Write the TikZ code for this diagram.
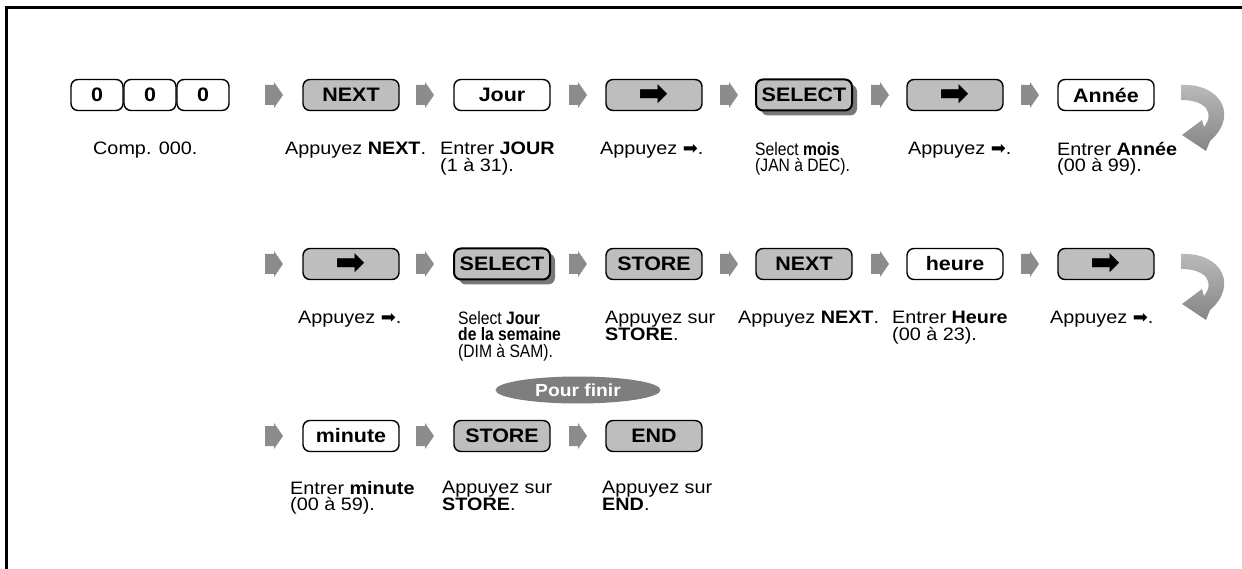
\documentclass[tikz,border=0pt]{standalone}
\usepackage{fontspec}
\setmainfont{Liberation Sans}[FakeStretch=1.1]
\newfontfamily\symf{DejaVu Sans}
\newfontfamily\condf{Liberation Sans}[FakeStretch=0.87]
\usetikzlibrary{shapes.geometric,shadows}
\definecolor{keygray}{HTML}{BEBEBE}
\definecolor{arrowgray}{HTML}{8C8C8C}
\definecolor{shadowgray}{HTML}{787878}
\definecolor{pillgray}{HTML}{7E7E7E}
\definecolor{curvetop}{HTML}{BBBBBB}
\definecolor{curvebot}{HTML}{858585}
\newcommand{\arr}{{\symf\fontsize{18}{15}\selectfont ➡}}
\newcommand{\bigarr}{{\symf\fontsize{36}{20}\selectfont ➡}}
\tikzset{
  key/.style={draw=black, line width=1.4pt, rounded corners=7pt, minimum width=96pt,
    minimum height=31pt, inner sep=0pt, font=\fontsize{19.5}{19.5}\selectfont\bfseries},
  wkey/.style={key, fill=white},
  gkey/.style={key, fill=keygray},
  skey/.style={key, fill=keygray, line width=2pt,
    drop shadow={shadow xshift=5pt, shadow yshift=-5pt, fill=shadowgray, opacity=1}},
  stepfill/.style={fill=arrowgray},
  lbl/.style={anchor=north west, inner sep=0pt, align=left, font=\fontsize{18}{16.5}\selectfont},
  slbl/.style={lbl, font=\condf\fontsize{18}{16.5}\selectfont},
  pill/.style={ellipse, fill=pillgray, minimum width=165pt, minimum height=27pt, inner sep=0pt,
    text=white, font=\fontsize{17.5}{17.5}\selectfont\bfseries}
}
% small gray step arrow centred at (#2,#3), named #1
\newcommand{\steparrow}[3]{%
  \coordinate (#1) at (#2,#3);
  \fill[stepfill] (#2-9,#3-10) -- (#2,#3-10) -- (#2,#3-13) -- (#2+9,#3)
    -- (#2,#3+13) -- (#2,#3+10) -- (#2-9,#3+10) -- cycle;}
\newcommand{\curvedarrow}[2]{%
  \begin{scope}[shift={(#1,#2)}]
    \shade[top color=curvetop, bottom color=curvebot]
      (1,-1) .. controls (41,-3) and (59,30) .. (30,55)
      -- (26,65) -- (2,49) -- (22,34) -- (24,41)
      .. controls (35,27) and (26,14) .. (1,14) -- cycle;
  \end{scope}}
\begin{document}
\begin{tikzpicture}[x=1pt,y=-1pt]
\useasboundingbox (0,0) rectangle (1242,569);
\draw[line width=3pt] (5,7.5) -- (1242,7.5);
\draw[line width=2.5pt] (6.25,6) -- (6.25,569);

% ---------- row 1
\node[wkey, minimum width=52pt] (z1) at (97,95) {0};
\node[wkey, minimum width=52pt] (z2) at (150,95) {0};
\node[wkey, minimum width=52pt] (z3) at (203,95) {0};
\steparrow{a11}{274}{95}
\node[gkey] (next1) at (351,95) {NEXT};
\steparrow{a12}{425}{95}
\node[wkey] (jour) at (502,95) {Jour};
\steparrow{a13}{578}{95}
\node[gkey] (r1) at (654,95) {\bigarr};
\steparrow{a14}{729}{95}
\node[skey] (sel1) at (804,95) {SELECT};
\steparrow{a15}{880}{95}
\node[gkey] (r2) at (955,95) {\bigarr};
\steparrow{a16}{1030}{95}
\node[wkey] (annee) at (1106,95) {Année};
\curvedarrow{1180}{86}

\node[lbl] (t11) at (93,142) {Comp. 000.};
\node[lbl] (t12) at (285,142) {Appuyez \textbf{NEXT}.};
\node[lbl] (t13) at (440,142) {Entrer \textbf{JOUR}\\(1 à 31).};
\node[lbl] (t14) at (600,142) {Appuyez \arr.};
\node[slbl] (t15) at (755,142) {Select \textbf{mois}\\(JAN à DEC).};
\node[lbl] (t16) at (908,142) {Appuyez \arr.};
\node[lbl] (t17) at (1057,142) {Entrer \textbf{Année}\\(00 à 99).};

% ---------- row 2
\steparrow{a21}{274}{264}
\node[gkey] (r3) at (351,264) {\bigarr};
\steparrow{a22}{425}{264}
\node[skey] (sel2) at (502,264) {SELECT};
\steparrow{a23}{578}{264}
\node[gkey] (store1) at (654,264) {STORE};
\steparrow{a24}{729}{264}
\node[gkey] (next2) at (804,264) {NEXT};
\steparrow{a25}{880}{264}
\node[wkey] (heure) at (955,264) {heure};
\steparrow{a26}{1030}{264}
\node[gkey] (r4) at (1106,264) {\bigarr};
\curvedarrow{1180}{255}

\node[lbl] (t21) at (298,311) {Appuyez \arr.};
\node[slbl] (t22) at (458,311) {Select \textbf{Jour}\\\textbf{de la semaine}\\(DIM à SAM).};
\node[lbl] (t23) at (605,311) {Appuyez sur\\\textbf{STORE}.};
\node[lbl] (t24) at (738,311) {Appuyez \textbf{NEXT}.};
\node[lbl] (t25) at (892,311) {Entrer \textbf{Heure}\\(00 à 23).};
\node[lbl] (t26) at (1050,311) {Appuyez \arr.};

\node[pill] (fin) at (578,390) {Pour finir};

% ---------- row 3
\steparrow{a31}{274}{436}
\node[wkey] (minute) at (351,436) {minute};
\steparrow{a32}{425}{436}
\node[gkey] (store2) at (502,436) {STORE};
\steparrow{a33}{578}{436}
\node[gkey] (endk) at (654,436) {END};

\node[lbl] (t31) at (290,481) {Entrer \textbf{minute}\\(00 à 59).};
\node[lbl] (t32) at (442,481) {Appuyez sur\\\textbf{STORE}.};
\node[lbl] (t33) at (602,481) {Appuyez sur\\\textbf{END}.};
\end{tikzpicture}
\end{document}
